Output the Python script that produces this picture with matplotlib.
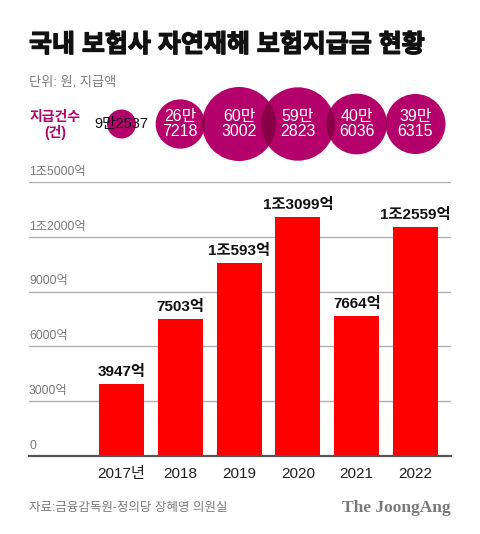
import matplotlib
matplotlib.use("Agg")
import matplotlib.pyplot as plt
import matplotlib.patheffects as pe
from matplotlib.patches import Circle
import numpy as np

plt.rcParams['font.family'] = ['Liberation Sans', 'Noto Sans CJK KR', 'DejaVu Sans']

# ---- data ----
years = ["2017년", "2018", "2019", "2020", "2021", "2022"]
amounts = [3947, 7503, 10593, 13099, 7664, 12559]          # 억 원
amount_labels = ["3947억", "7503억", "1조593억", "1조3099억", "7664억", "1조2559억"]
counts = [92537, 267218, 603002, 592823, 406036, 396315]   # 건
count_labels = ["9만2537", "26만\n7218", "60만\n3002", "59만\n2823", "40만\n6036", "39만\n6315"]
yticks = [0, 3000, 6000, 9000, 12000, 15000]
ytick_labels = ["0", "3000억", "6000억", "9000억", "1조2000억", "1조5000억"]

W, H = 480, 534
fig = plt.figure(figsize=(W / 100, H / 100), dpi=100)
fig.patch.set_facecolor("white")

def fx(px):
    return px / W

def fy(py):
    return 1 - py / H

BUB = "#b3006b"
BUB_DARK = "#880045"
GRAY = "#7a7a7a"

# ---- main bar axes ----
ax_l, ax_r = 29, 451
ax_top, ax_bot = 182, 456
ax = fig.add_axes([fx(ax_l), fy(ax_bot), fx(ax_r - ax_l), (ax_bot - ax_top) / H])
x = np.arange(len(years))
unit = 58.8
x0 = (ax_l - 121.5) / unit
x1 = (ax_r - 121.5) / unit
ax.set_xlim(x0, x1)
ax.set_ylim(0, 15000)
ax.bar(x, amounts, width=45 / unit, color="#ff0000", zorder=3)
for t in yticks[1:]:
    ax.axhline(t, color="#b0b0b0", lw=1.0, zorder=1)
ax.axhline(0, color="#555555", lw=1.6, zorder=4, clip_on=False)
for t, lab in zip(yticks, ytick_labels):
    ax.annotate(lab, xy=(x0, t), xytext=(0, 3), textcoords="offset points",
                ha="left", va="bottom", fontsize=8.8, color=GRAY, annotation_clip=False)
for xi, v, lab in zip(x, amounts, amount_labels):
    ax.annotate(lab, xy=(xi, v), xytext=(0, 3.5), textcoords="offset points",
                ha="center", va="bottom", fontsize=11, fontweight="bold", color="#111111")
for xi, lab in zip(x, years):
    ax.annotate(lab, xy=(xi, 0), xytext=(0, -8), textcoords="offset points",
                ha="center", va="top", fontsize=11, color="#222222", annotation_clip=False)
for s in ax.spines.values():
    s.set_visible(False)
ax.set_xticks([])
ax.set_yticks([])

# ---- bubble axes ----
b_top, b_bot = 80, 170
bx = fig.add_axes([fx(ax_l), fy(b_bot), fx(ax_r - ax_l), (b_bot - b_top) / H])
bx.set_xlim(x0, x1)
bx.set_ylim(0, (b_bot - b_top) / unit)
bx.axis("off")
cy = (b_bot - 124) / unit
radii = [14.5 * np.sqrt(c / counts[0]) / unit for c in counts]
circles = []
for xi, r in zip(x, radii):
    c = Circle((xi, cy), r, facecolor=BUB, edgecolor="none", zorder=2)
    bx.add_patch(c)
    circles.append(c)
# darker overlap regions
for i in range(len(circles) - 1):
    ov = Circle((x[i + 1], cy), radii[i + 1], facecolor=BUB_DARK, edgecolor="none", zorder=3)
    bx.add_patch(ov)
    ov.set_clip_path(circles[i])
for i, (xi, lab) in enumerate(zip(x, count_labels)):
    if i == 0:
        bx.text(xi, cy, lab, ha="center", va="center", fontsize=10.5,
                color="#111111", zorder=5)
    else:
        bx.text(xi, cy, lab, ha="center", va="center", fontsize=11.5,
                color="white", linespacing=1.08, zorder=5)

# ---- texts ----
fig.text(fx(29), fy(45), "국내 보험사 자연재해 보험지급금 현황", ha="left", va="center",
         fontsize=18, fontweight="heavy", color="#111111",
         path_effects=[pe.withStroke(linewidth=0.9, foreground="#111111")])
fig.text(fx(29), fy(82), "단위: 원, 지급액", ha="left", va="center",
         fontsize=9.5, color=GRAY)
fig.text(fx(55), fy(125), "지급건수\n(건)", ha="center", va="center",
         fontsize=10, fontweight="bold", color=BUB, linespacing=1.15)
fig.text(fx(29), fy(508), "자료:금융감독원-정의당 장혜영 의원실", ha="left", va="center",
         fontsize=9, color=GRAY)
fig.text(fx(451), fy(508), "The JoongAng", ha="right", va="center",
         fontsize=12.5, fontweight="bold", color=GRAY, family="Liberation Serif")

fig.savefig("out.png", dpi=100, facecolor="white")
